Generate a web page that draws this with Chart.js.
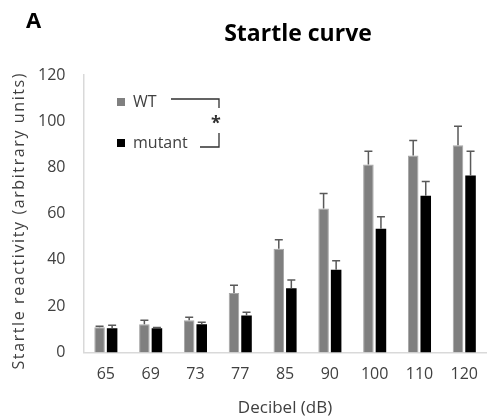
<!DOCTYPE html>
<html>
<head>
<meta charset="utf-8">
<script src="https://cdn.jsdelivr.net/npm/chart.js@4/dist/chart.umd.min.js"></script>
<style>
    html, body { margin: 0; padding: 0; background: #fff; }
    #wrap { width: 490px; height: 420px; position: relative; }
</style>
</head>
<body>
<div id="wrap"><canvas id="startleChart" width="490" height="420"></canvas></div>
<script>
// Data
const decibels = ['65', '69', '73', '77', '85', '90', '100', '110', '120'];
const wtValues = [10.9, 12.2, 13.9, 25.7, 44.8, 62.2, 81.3, 85.2, 89.6];
const wtErrors = [0.4, 1.7, 1.3, 3.3, 3.9, 6.5, 5.7, 6.5, 8.2];
const mutantValues = [10.4, 10.4, 12.2, 16.0, 27.8, 35.7, 53.5, 67.8, 76.5];
const mutantErrors = [1.3, 0.4, 0.8, 1.4, 3.5, 3.9, 5.2, 6.1, 10.5];
const yTicks = [0, 20, 40, 60, 80, 100, 120];

const FONT = '"Open Sans", Lato, sans-serif';

// Upward-only error bars with a cap, drawn through the chart scales
const errorBarPlugin = {
    id: 'errorBars',
    afterDatasetsDraw(chart) {
        const ctx = chart.ctx;
        const yScale = chart.scales.y;
        const errs = [wtErrors, mutantErrors];
        ctx.save();
        ctx.strokeStyle = '#595959';
        ctx.lineWidth = 1.5;
        chart.data.datasets.forEach((ds, i) => {
            const meta = chart.getDatasetMeta(i);
            meta.data.forEach((bar, j) => {
                const top = yScale.getPixelForValue(ds.data[j] + errs[i][j]);
                const x = bar.x;
                ctx.beginPath();
                ctx.moveTo(x, bar.y);
                ctx.lineTo(x, top);
                ctx.moveTo(x - 4, top);
                ctx.lineTo(x + 4, top);
                ctx.stroke();
            });
        });
        ctx.restore();
    }
};

// Panel letter, title, y title, legend with significance bracket
const annotatePlugin = {
    id: 'annotate',
    afterDraw(chart) {
        const ctx = chart.ctx;
        const area = chart.chartArea;
        ctx.save();
        ctx.fillStyle = '#000';
        ctx.font = 'bold 22px ' + FONT;
        ctx.textBaseline = 'alphabetic';
        ctx.fillText('A', 26, 28);

        ctx.textAlign = 'center';
        ctx.font = 'bold 23px ' + FONT;
        ctx.fillText('Startle curve', 298, 41);

        // y axis title (spaced out like the original)
        ctx.save();
        ctx.translate(19, (area.top + area.bottom) / 2 + 7);
        ctx.rotate(-Math.PI / 2);
        ctx.fillStyle = '#404040';
        ctx.font = '16px ' + FONT;
        ctx.textBaseline = 'middle';
        ctx.letterSpacing = '1.6px';
        ctx.fillText('Startle reactivity (arbitrary units)', 0, 0);
        ctx.restore();

        ctx.textAlign = 'left';
        // legend
        ctx.font = '16px ' + FONT;
        ctx.textBaseline = 'middle';
        ctx.fillStyle = '#808080';
        ctx.fillRect(117, 98, 8, 8);
        ctx.fillStyle = '#000';
        ctx.fillRect(117, 139, 8, 8);
        ctx.fillStyle = '#404040';
        ctx.fillText('WT', 133, 102);
        ctx.fillText('mutant', 133, 143);

        // bracket
        ctx.strokeStyle = '#303030';
        ctx.lineWidth = 1.3;
        ctx.beginPath();
        ctx.moveTo(171, 99);
        ctx.lineTo(219, 99);
        ctx.lineTo(219, 108);
        ctx.moveTo(219, 133);
        ctx.lineTo(219, 147);
        ctx.lineTo(200, 147);
        ctx.stroke();
        ctx.fillStyle = '#303030';
        ctx.font = 'bold 18px ' + FONT;
        ctx.textAlign = 'center';
        ctx.fillText('*', 216, 124);
        ctx.restore();
    }
};

const ctx = document.getElementById('startleChart').getContext('2d');
const startleChart = new Chart(ctx, {
    type: 'bar',
    data: {
        labels: decibels,
        datasets: [
            {
                label: 'WT',
                data: wtValues,
                backgroundColor: '#7f7f7f',
                borderColor: '#a6a6a6',
                borderWidth: 1
            },
            {
                label: 'mutant',
                data: mutantValues,
                backgroundColor: '#000000',
                borderColor: '#000000',
                borderWidth: 0
            }
        ]
    },
    options: {
        responsive: false,
        animation: false,
        layout: { padding: { top: 75, right: 0, left: 20, bottom: 2 } },
        plugins: {
            legend: { display: false },
            tooltip: { enabled: false },
            title: { display: false }
        },
        datasets: {
            bar: { categoryPercentage: 0.56, barPercentage: 0.84 }
        },
        scales: {
            x: {
                grid: { display: false, drawTicks: false },
                border: { color: '#d9d9d9', width: 1.5 },
                ticks: { color: '#404040', font: { family: FONT, size: 16 }, padding: 12 },
                title: {
                    display: true,
                    text: 'Decibel (dB)',
                    color: '#404040',
                    font: { family: FONT, size: 17 },
                    padding: { top: 2, bottom: 0 }
                }
            },
            y: {
                min: 0,
                max: 120,
                afterBuildTicks(axis) { axis.ticks = yTicks.map(v => ({ value: v })); },
                grid: { display: false, drawTicks: false },
                border: { color: '#d9d9d9', width: 1.5 },
                ticks: { color: '#404040', font: { family: FONT, size: 16 }, padding: 18 },
                title: { display: false }
            }
        }
    },
    plugins: [errorBarPlugin, annotatePlugin]
});
</script>
</body>
</html>
